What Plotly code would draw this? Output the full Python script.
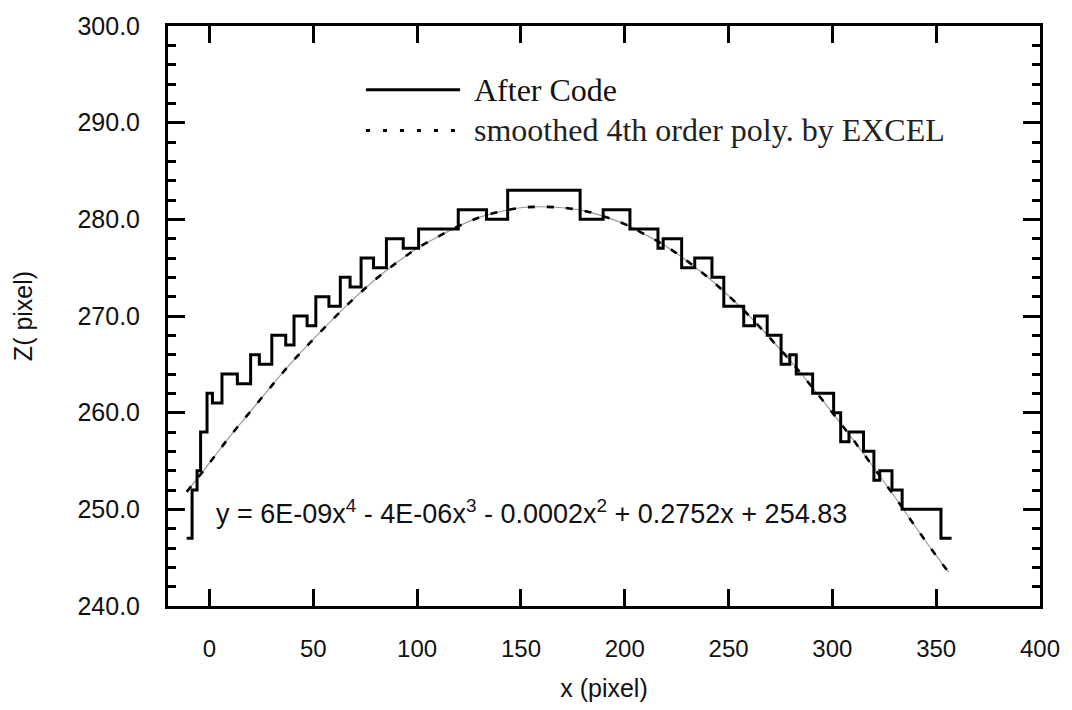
import plotly.graph_objects as go

# "After Code" stepped profile: x where each level starts, and the level (Z pixel)
step_x = [-11, -8.4, -6.0, -4.3, -1.2, 1.4, 6.0, 13.4, 19.8, 24.0, 30.0, 36.7, 40.7, 47.0,
          51.2, 57.5, 63.0, 67.7, 73.0, 79.0, 85.2, 93.3, 100.7, 119.8, 133.4, 143.6, 178.5,
          189.6, 202.5, 216.0, 218.5, 227.4, 233.7, 242.0, 247.7, 257.3, 262.5, 268.6, 275.3,
          279.5, 282.6, 290.5, 300.6, 304.0, 308.0, 315.0, 320.0, 322.8, 328.7, 333.6, 352.3,
          357.4]
step_z = [247, 252, 254, 258, 262, 261, 264, 263, 266, 265, 268, 267, 270, 269,
          272, 271, 274, 273, 276, 275, 278, 277, 279, 281, 280, 283, 280,
          281, 279, 277, 278, 275, 276, 274, 271, 269, 270, 268, 265,
          266, 264, 262, 260, 257, 258, 256, 253, 254, 252, 250, 247,
          247]

# smoothed 4th order polynomial curve
fit_x = [-11, 0, 10, 20, 30, 40, 50, 60, 70, 80, 90, 100, 110, 120, 130, 140, 150, 160,
         170, 180, 190, 200, 210, 220, 230, 240, 250, 260, 270, 280, 290, 300, 310, 320,
         330, 340, 350, 356]
fit_z = [251.8, 254.8, 257.6, 260.2, 262.8, 265.3, 267.6, 269.8, 271.9, 273.8, 275.5, 277.0,
         278.2, 279.3, 280.2, 280.8, 281.2, 281.3, 281.2, 280.9, 280.3, 279.5, 278.4, 277.2,
         275.7, 274.0, 272.1, 270.0, 267.7, 265.3, 262.7, 260.0, 257.2, 254.3, 251.3, 248.2,
         245.2, 243.5]

x_ticks = [0, 50, 100, 150, 200, 250, 300, 350, 400]
y_ticks = [240, 250, 260, 270, 280, 290, 300]

legend_names = ["After Code", "smoothed 4th order poly. by EXCEL"]
equation = "y = 6E-09x<sup>4</sup> - 4E-06x<sup>3</sup> - 0.0002x<sup>2</sup> + 0.2752x + 254.83"

SANS = "Liberation Sans, Arial, sans-serif"
SERIF = "Liberation Serif, Times New Roman, serif"

fig = go.Figure()
fig.add_trace(go.Scatter(x=fit_x, y=fit_z, mode="lines", line=dict(color="#9a9a9a", width=1.2, shape="spline"),
                         showlegend=False, hoverinfo="skip"))
fig.add_trace(go.Scatter(x=fit_x, y=fit_z, mode="lines", name=legend_names[1],
                         line=dict(color="black", width=2.6, dash="7px,12px", shape="spline"),
                         showlegend=False))
fig.add_trace(go.Scatter(x=step_x, y=step_z, mode="lines", name=legend_names[0],
                         line=dict(color="black", width=3, shape="hv"), showlegend=False))

# manual legend (long sample lines as in the original)
fig.add_shape(type="line", xref="paper", yref="paper", x0=0.227, x1=0.335, y0=0.890, y1=0.890,
              line=dict(color="black", width=3))
fig.add_shape(type="line", xref="paper", yref="paper", x0=0.227, x1=0.335, y0=0.820, y1=0.820,
              line=dict(color="black", width=3, dash="4px,13px"))
fig.add_annotation(xref="paper", yref="paper", x=0.3485, y=0.890, xanchor="left", yanchor="middle",
                   text=legend_names[0], showarrow=False, font=dict(family=SERIF, size=32, color="#111"))
fig.add_annotation(xref="paper", yref="paper", x=0.3485, y=0.820, xanchor="left", yanchor="middle",
                   text=legend_names[1], showarrow=False, font=dict(family=SERIF, size=32, color="#222"))

fig.add_annotation(xref="x", yref="y", x=2.2, y=249.7, xanchor="left", yanchor="middle",
                   text=equation, showarrow=False, font=dict(family=SANS, size=27, color="#111"))

fig.update_xaxes(range=[-20, 400], tickvals=x_ticks, ticks="inside", ticklen=17, tickwidth=2.5,
                 tickcolor="black", showline=True, linewidth=3, linecolor="black", mirror="ticks",
                 showgrid=False, zeroline=False, ticklabelstandoff=19,
                 tickfont=dict(family=SANS, size=24, color="#111"),
                 title=dict(text="x (pixel)", font=dict(family=SANS, size=25, color="#111"), standoff=19))
fig.update_yaxes(range=[240, 300], tickvals=y_ticks, tickformat=".1f", ticks="inside", ticklen=17,
                 tickwidth=2.5, tickcolor="black", showline=True, linewidth=3, linecolor="black",
                 mirror="ticks", showgrid=False, zeroline=False, ticklabelstandoff=20,
                 tickfont=dict(family=SANS, size=25, color="#111"),
                 minor=dict(ticks="inside", ticklen=8, tickwidth=2.5, tickcolor="black", dtick=2, showgrid=False),
                 title=dict(text="Z( pixel)", font=dict(family=SANS, size=25, color="#111"), standoff=38))

fig.update_layout(width=1072, height=710, margin=dict(l=168, r=24, t=22, b=102),
                  plot_bgcolor="white", paper_bgcolor="white", showlegend=False)

fig.write_html("out.html")
